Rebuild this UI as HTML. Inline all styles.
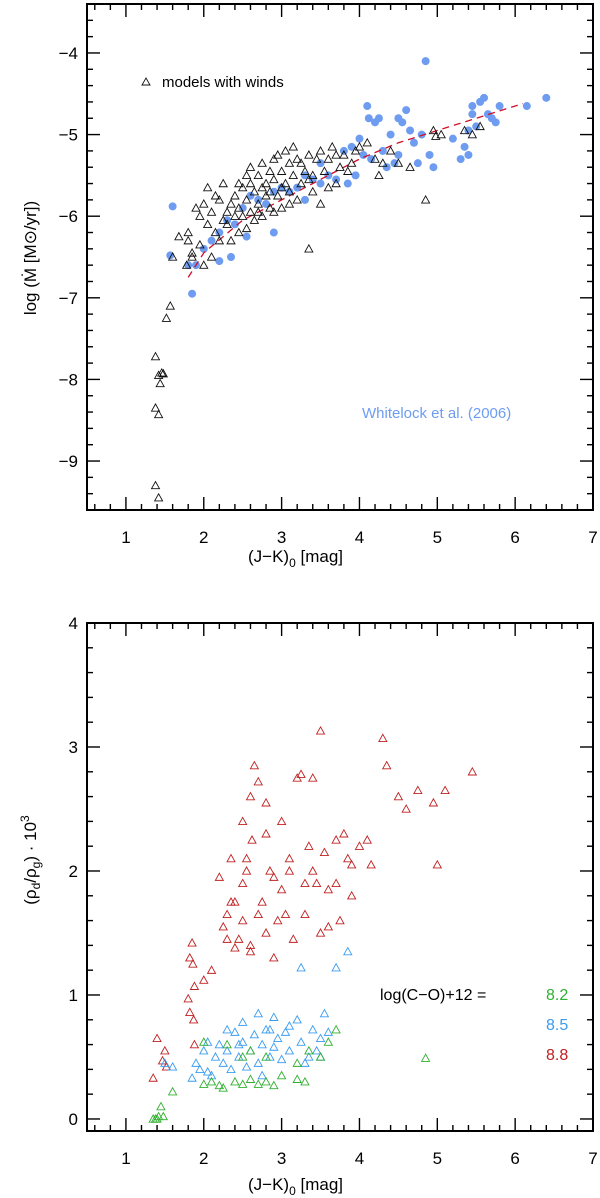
<!DOCTYPE html>
<html><head><meta charset="utf-8"><style>
html,body{margin:0;padding:0;background:#fff;}
svg{display:block;font-family:"Liberation Sans","DejaVu Sans",sans-serif;}
</style></head><body>
<svg id="c" width="600" height="1198" viewBox="0 0 600 1198"></svg>
<script>
// ---- data ----
const topModelsX=[1.38,1.42,1.46,1.48,1.44,1.38,1.42,1.38,1.42,1.52,1.57,1.6,1.68,1.8,1.85,1.78,1.9,1.95,2.0,2.05,2.1,2.15,2.2,2.25,2.3,2.35,2.4,2.45,2.5,2.5,2.55,2.6,2.6,2.65,2.7,2.7,2.75,2.8,2.8,2.85,2.9,2.9,2.95,3.0,3.0,3.05,3.1,3.1,3.15,3.2,3.25,3.3,3.35,3.4,3.45,3.5,3.55,3.6,3.65,3.7,3.75,3.8,3.9,4.0,4.1,4.2,4.3,4.5,4.85,4.95,4.98,5.05,5.45,5.35,5.55,3.35,2.1,1.95,2.0,2.2,2.3,1.8,1.85,2.4,2.55,2.45,2.6,2.75,2.85,2.95,3.05,3.15,3.25,3.4,3.5,3.6,3.2,2.65,2.35,2.25,2.15,2.05,2.75,2.85,3.35,3.0,2.55,2.45,3.7,3.85,4.4,4.65,4.25,3.95,2.7,2.9,3.1];
const topModelsY=[-7.72,-7.95,-7.92,-7.93,-8.05,-8.35,-8.43,-9.3,-9.45,-7.25,-7.1,-6.5,-6.25,-6.3,-6.5,-6.6,-5.9,-6.0,-5.85,-6.1,-5.95,-6.2,-5.8,-6.05,-5.95,-6.3,-5.75,-5.9,-6.0,-5.65,-5.8,-5.95,-5.6,-5.7,-5.85,-5.5,-6.0,-5.6,-5.75,-5.9,-5.55,-5.3,-5.75,-5.45,-5.9,-5.6,-5.35,-5.7,-5.5,-5.3,-5.6,-5.45,-5.25,-5.5,-5.3,-5.2,-5.45,-5.3,-5.15,-5.25,-5.4,-5.25,-5.35,-5.15,-5.1,-5.3,-5.35,-5.35,-5.8,-4.95,-5.02,-5.0,-5.0,-4.95,-4.9,-6.4,-6.5,-6.35,-6.6,-6.3,-6.1,-6.2,-6.45,-6.0,-6.15,-5.6,-5.4,-5.35,-5.45,-5.25,-5.2,-5.15,-5.35,-5.7,-5.85,-5.65,-5.8,-6.05,-5.85,-5.6,-5.75,-5.65,-5.65,-5.7,-5.55,-5.65,-5.5,-6.2,-5.6,-5.45,-5.2,-5.4,-5.5,-5.2,-5.95,-5.95,-5.85];
const obsX=[1.6,1.57,1.85,1.9,2.0,2.1,2.2,2.3,2.4,2.5,2.6,2.7,2.8,2.9,3.0,3.1,3.2,3.3,3.4,3.5,3.6,3.7,3.8,3.85,3.9,4.0,4.05,4.1,4.12,4.2,4.25,4.3,4.35,4.4,4.45,4.5,4.55,4.6,4.65,4.7,4.75,4.8,4.85,4.9,4.95,5.3,5.35,5.4,5.45,5.5,5.55,5.6,5.65,5.7,5.75,5.8,6.15,6.4,4.5,3.95,3.5,2.9,2.35,2.55,3.3,5.2,5.4,1.8,2.2,4.15,5.45];
const obsY=[-5.88,-6.48,-6.95,-6.6,-6.4,-6.3,-6.2,-6.05,-6.1,-5.9,-5.75,-5.8,-5.85,-5.7,-5.65,-5.7,-5.65,-5.5,-5.55,-5.35,-5.5,-5.55,-5.2,-5.6,-5.15,-5.05,-5.25,-4.65,-4.8,-4.85,-4.8,-5.2,-5.4,-5.0,-5.35,-4.8,-4.85,-4.7,-4.95,-5.1,-5.35,-5.0,-4.1,-5.25,-5.4,-5.3,-5.15,-4.95,-4.75,-4.9,-4.6,-4.55,-4.75,-4.8,-4.85,-4.65,-4.65,-4.55,-5.25,-5.5,-5.6,-6.2,-6.5,-6.25,-5.8,-5.05,-5.25,-6.6,-6.55,-5.3,-4.65];
const fitX=[1.8,2.0,2.5,3.0,3.5,4.0,4.5,5.0,5.5,6.1];
const fitY=[-6.75,-6.45,-6.05,-5.8,-5.55,-5.3,-5.1,-4.95,-4.8,-4.62];
const redX=[1.35,1.4,1.5,1.47,1.52,1.85,1.82,1.86,1.88,1.8,1.82,1.87,1.88,2.0,2.1,2.25,2.3,2.35,2.4,2.45,2.5,2.5,2.55,2.55,2.6,2.6,2.62,2.65,2.7,2.7,2.75,2.8,2.8,2.85,2.9,2.95,3.0,3.0,3.05,3.1,3.1,3.2,3.25,3.3,3.3,3.4,3.45,3.5,3.5,3.55,3.6,3.6,3.7,3.7,3.75,3.8,3.85,3.9,4.0,4.1,4.3,4.35,4.5,4.6,4.75,4.95,5.1,5.45,5.0,2.2,2.4,2.35,2.5,2.6,3.9,4.15,3.15,2.9,3.35,2.8,3.4,2.3];
const redY=[0.33,0.65,0.55,0.47,0.42,1.42,1.3,1.25,1.07,0.97,0.86,0.8,0.6,1.12,1.2,1.55,1.65,1.75,1.38,1.45,2.4,1.9,2.1,2.0,2.6,1.35,2.25,2.85,2.72,1.65,1.75,2.3,1.5,2.0,1.3,1.6,2.4,1.85,1.65,2.1,2.0,2.75,2.78,1.9,1.65,2.0,1.9,3.13,1.5,2.15,1.85,1.55,2.25,1.9,1.6,2.3,2.1,1.8,2.2,2.25,3.07,2.85,2.6,2.5,2.65,2.55,2.65,2.8,2.05,1.95,1.75,2.1,1.6,1.4,2.05,2.05,1.45,1.95,2.2,2.55,2.75,1.45];
const blueX=[1.5,1.6,1.85,1.9,1.95,2.0,2.05,2.1,2.15,2.2,2.25,2.3,2.35,2.4,2.45,2.5,2.55,2.6,2.65,2.7,2.75,2.8,2.85,2.9,2.95,3.0,3.05,3.1,3.2,3.25,3.3,3.4,3.45,3.5,3.55,3.6,3.25,3.7,3.85,2.7,2.9,3.1,2.3,2.5,2.05,3.35,2.75,2.85,2.45,3.5];
const blueY=[0.45,0.42,0.33,0.45,0.4,0.55,0.62,0.35,0.5,0.6,0.45,0.55,0.4,0.7,0.5,0.62,0.42,0.55,0.68,0.45,0.6,0.72,0.5,0.58,0.65,0.48,0.7,0.55,0.8,0.62,0.45,0.72,0.55,0.65,0.85,0.7,1.22,1.22,1.35,0.85,0.82,0.75,0.72,0.78,0.38,0.5,0.35,0.72,0.6,0.5];
const greenX=[1.35,1.38,1.42,1.45,1.48,1.4,1.6,2.0,2.1,2.2,2.25,2.4,2.5,2.6,2.7,2.8,2.9,3.0,3.2,3.3,3.5,3.6,3.7,2.0,2.6,3.35,3.2,2.8,2.5,4.85,2.3];
const greenY=[0,0,0.02,0.1,0.02,0.0,0.22,0.28,0.3,0.27,0.25,0.3,0.28,0.32,0.28,0.3,0.27,0.35,0.32,0.3,0.5,0.62,0.72,0.62,0.55,0.55,0.45,0.5,0.5,0.49,0.6];
const xTicks=[1,2,3,4,5,6,7];
const topYTicks=[-4,-5,-6,-7,-8,-9];
const botYTicks=[0,1,2,3,4];

// ---- layout ----
const NS="http://www.w3.org/2000/svg";
const svg=document.getElementById('c');
function el(tag,attrs,parent){const e=document.createElementNS(NS,tag);for(const k in attrs)e.setAttribute(k,attrs[k]);(parent||svg).appendChild(e);return e;}
const X0=87,X1=593;
function xs(v){return X0+(v-0.5)/(7.0-0.5)*(X1-X0);}
const T={y0:4,y1:510,min:-9.6,max:-3.4};
const B={y0:623,y1:1131,min:-0.097,max:4.0};
function ys(p,v){return p.y1-(v-p.min)/(p.max-p.min)*(p.y1-p.y0);}

function frame(p,yTicks,name){
  const g=el('g',{});
  
  
  el('rect',{x:X0,y:p.y0,width:X1-X0,height:p.y1-p.y0,fill:'none',stroke:'#000','stroke-width':2},g);
  for(let v=0.6;v<=7.001;v+=0.2){
    const maj=Math.abs(v-Math.round(v))<0.01;const L=maj?13:6;const x=xs(v);
    el('line',{x1:x,x2:x,y1:p.y1,y2:p.y1-L,stroke:'#000','stroke-width':1.4},g);
    el('line',{x1:x,x2:x,y1:p.y0,y2:p.y0+L,stroke:'#000','stroke-width':1.4},g);
  }
  for(let v=Math.ceil(p.min*5)/5;v<=p.max+0.001;v+=0.2){
    const maj=Math.abs(v-Math.round(v))<0.01;const L=maj?13:6;const y=ys(p,v);
    el('line',{x1:X0,x2:X0+L,y1:y,y2:y,stroke:'#000','stroke-width':1.4},g);
    el('line',{x1:X1,x2:X1-L,y1:y,y2:y,stroke:'#000','stroke-width':1.4},g);
  }
  xTicks.forEach(v=>{const t=el('text',{x:xs(v),y:p.y1+33,'font-size':17,'text-anchor':'middle'},g);t.textContent=v;
    });
  yTicks.forEach(v=>{const t=el('text',{x:78,y:ys(p,v)+6,'font-size':17,'text-anchor':'end'},g);t.textContent=v<0?'\u2212'+(-v):v;
    });
}
function tri(x,y,color,parent,nm){
  const t=el('path',{d:`M${x-4},${y+3.2}L${x+4},${y+3.2}L${x},${y-4}Z`,fill:'none',stroke:color,'stroke-width':0.9},parent);
  
  
}
frame(T,topYTicks,'top');
frame(B,botYTicks,'bottom');

// top plot marks
const gObs=el('g',{});


obsX.forEach((v,i)=>{const c=el('circle',{cx:xs(v),cy:ys(T,obsY[i]),r:4,fill:'#6d9cf0'},gObs);
  
  });
const fit=el('polyline',{points:fitX.map((v,i)=>xs(v)+','+ys(T,fitY[i])).join(' '),fill:'none',stroke:'#d0102a','stroke-width':1.3,'stroke-dasharray':'7,5'});


const gMod=el('g',{});


topModelsX.forEach((v,i)=>tri(xs(v),ys(T,topModelsY[i]),'#111',gMod,'model-point'));

// bottom plot marks
const gR=el('g',{});


redX.forEach((v,i)=>tri(xs(v),ys(B,redY[i]),'#c02020',gR,'point-8-8'));
const gB=el('g',{});


blueX.forEach((v,i)=>tri(xs(v),ys(B,blueY[i]),'#3a9cf0',gB,'point-8-5'));
const gG=el('g',{});


greenX.forEach((v,i)=>tri(xs(v),ys(B,greenY[i]),'#30b030',gG,'point-8-2'));
</script>
<div style="position:absolute;left:0;top:0;width:600px;height:1198px;pointer-events:none;font-family:'Liberation Sans','DejaVu Sans',sans-serif;">
  <svg width="600" height="1198" style="position:absolute;left:0;top:0">
    <path d="M142,85L150,85L146,78Z" fill="none" stroke="#111" stroke-width="0.9"/>
    <text x="162" y="87" font-size="15">models  with  winds</text>
    <text x="362" y="418" font-size="15" fill="#6d9cf0">Whitelock  et  al.  (2006)</text>
    <text x="248" y="562" font-size="17">(J−K)<tspan font-size="12" dy="5">0</tspan><tspan dy="-5">    [mag]</tspan></text>
    <text x="248" y="1190" font-size="17">(J−K)<tspan font-size="12" dy="5">0</tspan><tspan dy="-5">    [mag]</tspan></text>
    <text transform="translate(36,258) rotate(-90)" text-anchor="middle" font-size="17">log  (Ṁ  [M⊙/yr])</text>
    <text transform="translate(36,860) rotate(-90)" text-anchor="middle" font-size="17">(ρ<tspan font-size="12" dy="4">d</tspan><tspan dy="-4">/ρ</tspan><tspan font-size="12" dy="4">g</tspan><tspan dy="-4">)    · 10</tspan><tspan font-size="12" dy="-7">3</tspan></text>
    <text x="380" y="1000" font-size="16">log(C−O)+12 =</text>
    <text x="546" y="1000" font-size="16" fill="#30b030">8.2</text>
    <text x="546" y="1030" font-size="16" fill="#3a9cf0">8.5</text>
    <text x="546" y="1060" font-size="16" fill="#c02020">8.8</text>
  </svg>
</div>
</body></html>
